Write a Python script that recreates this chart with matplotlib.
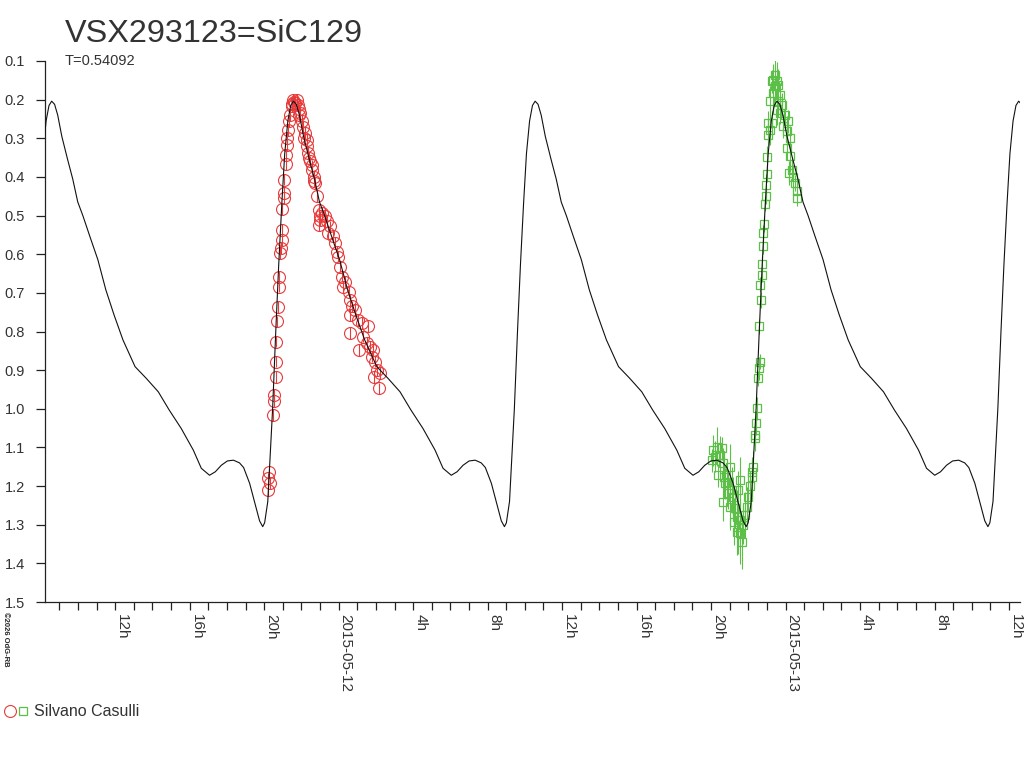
import datetime
import matplotlib
matplotlib.use('Agg')
import matplotlib.pyplot as plt
import matplotlib.dates as mdates
from matplotlib.ticker import FuncFormatter, MultipleLocator
from matplotlib.legend_handler import HandlerTuple
import numpy as np

#------------------------------------------------------------------------------
# star / ephemeris
star_name = 'VSX293123=SiC129'
period = 0.54092                 # days
t_max_h = -2.43                  # hours from 2015-05-12 00:00, one maximum
base = datetime.datetime(2015, 5, 12)

# model light curve, one cycle (phase from maximum, magnitude)
model_phase = [0.000, 0.012, 0.025, 0.042, 0.066, 0.087, 0.108, 0.129, 0.158,
               0.191, 0.224, 0.258, 0.295, 0.345, 0.391, 0.441, 0.486, 0.536,
               0.586, 0.619, 0.653, 0.677, 0.702, 0.727, 0.752, 0.777, 0.794,
               0.819, 0.848, 0.860, 0.873, 0.881, 0.894, 0.904, 0.914, 0.927,
               0.939, 0.952, 0.964, 0.977, 0.989]
model_mag = [0.204, 0.212, 0.240, 0.295, 0.355, 0.405, 0.465, 0.500, 0.554,
             0.614, 0.692, 0.757, 0.822, 0.891, 0.921, 0.956, 1.003, 1.051,
             1.107, 1.154, 1.172, 1.163, 1.146, 1.135, 1.133, 1.140, 1.152,
             1.193, 1.262, 1.290, 1.305, 1.295, 1.240, 1.120, 1.000, 0.800,
             0.630, 0.470, 0.340, 0.255, 0.215]

# Silvano Casulli, first night (red circles), hours from 2015-05-12 00:00
red_h = [-3.73, -3.77, -3.68, -3.80, -3.50, -3.46, -3.45, -3.37, -3.36, -3.34,
         -3.30, -3.28, -3.23, -3.19, -3.14, -3.10, -3.05, -3.04, -3.02, -2.96,
         -2.94, -2.91, -2.83, -2.82, -2.78, -2.75, -2.70, -2.69, -2.60, -2.51,
         -2.48, -2.43, -2.39, -2.34, -2.24, -2.20, -2.15, -2.12, -2.07, -1.98,
         -1.91, -1.85, -1.80, -1.71, -1.69, -1.62, -1.58, -1.53, -1.44, -1.42,
         -1.35, -1.31, -1.26, -1.17, -1.08, -0.99, -0.90, -0.98, -1.07, -0.72,
         -0.63, -0.46, -0.55, -0.28, -0.19, -0.10, -0.01, 0.08, 0.17, 0.35,
         0.26, 0.53, 0.62, 0.71, 0.63, 0.89, 1.06, 1.25, 1.60, 0.61,
         1.33, 1.51, 1.69, 1.07, 1.87, 1.78, 1.96, 2.05, 2.23, 1.88, 2.14]
red_mag = [1.163, 1.180, 1.193, 1.210, 1.016, 0.981, 0.964, 0.918, 0.878, 0.826,
           0.774, 0.737, 0.684, 0.659, 0.597, 0.584, 0.563, 0.537, 0.483, 0.455,
           0.442, 0.407, 0.366, 0.342, 0.317, 0.299, 0.278, 0.256, 0.239, 0.217,
           0.210, 0.200, 0.205, 0.209, 0.200, 0.215, 0.225, 0.240, 0.234, 0.256,
           0.270, 0.300, 0.286, 0.304, 0.320, 0.338, 0.350, 0.360, 0.381, 0.370,
           0.399, 0.410, 0.416, 0.450, 0.485, 0.502, 0.494, 0.511, 0.524, 0.502,
           0.515, 0.528, 0.545, 0.554, 0.571, 0.593, 0.606, 0.632, 0.658, 0.671,
           0.684, 0.697, 0.718, 0.735, 0.757, 0.744, 0.770, 0.778, 0.787, 0.804,
           0.813, 0.830, 0.839, 0.848, 0.848, 0.865, 0.878, 0.900, 0.908, 0.917, 0.947]
red_err = 0.015

# Silvano Casulli, second night (green squares)
green_h = [20.12, 20.31, 20.57, 20.21, 20.48, 20.04, 20.66, 20.39, 20.67, 20.84,
           21.02, 20.75, 20.65, 20.93, 21.11, 21.20, 21.03, 21.29, 21.38, 21.21,
           21.56, 21.47, 21.57, 21.65, 21.39, 21.73, 21.82, 21.92, 22.00, 21.55,
           21.46, 22.09, 22.19, 22.27, 22.18, 22.36, 22.37, 22.40, 22.45, 22.54,
           22.55, 22.63, 22.58, 22.67, 22.64, 22.72, 22.73, 22.78, 22.81, 22.85,
           22.90, 22.95, 22.94, 22.99, 23.02, 23.08, 23.17, 23.26, 23.07, 23.16,
           23.34, 23.43, 23.25, 23.44, 23.35, 23.53, 23.61, 23.70, 23.62, 23.79,
           23.52, 23.71, 23.97, 24.15, 23.88, 24.06, 24.24, 24.07, 24.25, 24.16,
           24.33, 24.42, 24.51, 24.60, 24.61]
green_mag = [1.107, 1.098, 1.102, 1.124, 1.120, 1.133, 1.141, 1.172, 1.176, 1.189,
             1.150, 1.193, 1.240, 1.219, 1.210, 1.227, 1.253, 1.258, 1.279, 1.292,
             1.288, 1.305, 1.322, 1.344, 1.318, 1.301, 1.275, 1.253, 1.227, 1.184,
             1.210, 1.201, 1.176, 1.150, 1.163, 1.076, 1.068, 1.037, 0.999, 0.921,
             0.895, 0.878, 0.787, 0.718, 0.679, 0.653, 0.625, 0.580, 0.544, 0.522,
             0.469, 0.450, 0.422, 0.393, 0.349, 0.291, 0.278, 0.260, 0.260, 0.204,
             0.183, 0.165, 0.153, 0.135, 0.148, 0.153, 0.161, 0.187, 0.204, 0.213,
             0.226, 0.234, 0.239, 0.256, 0.269, 0.282, 0.299, 0.325, 0.347, 0.390,
             0.381, 0.399, 0.416, 0.437, 0.455]
green_err = [0.04, 0.05, 0.03, 0.04, 0.05, 0.03, 0.04, 0.03, 0.05, 0.04,
             0.06, 0.04, 0.05, 0.04, 0.06, 0.05, 0.06, 0.05, 0.07, 0.06,
             0.05, 0.07, 0.08, 0.07, 0.06, 0.05, 0.06, 0.05, 0.04, 0.06,
             0.05, 0.04, 0.05, 0.04, 0.03, 0.03, 0.04, 0.03, 0.03, 0.02,
             0.03, 0.02, 0.02, 0.02, 0.02, 0.02, 0.02, 0.02, 0.02, 0.02,
             0.02, 0.02, 0.03, 0.02, 0.03, 0.03, 0.04, 0.03, 0.03, 0.04,
             0.04, 0.05, 0.03, 0.04, 0.04, 0.05, 0.04, 0.03, 0.04, 0.03,
             0.04, 0.03, 0.04, 0.03, 0.03, 0.04, 0.03, 0.03, 0.04, 0.03,
             0.03, 0.03, 0.02, 0.03, 0.02]

observer = 'Silvano Casulli'
c_red = '#e83a3a'
c_green = '#5cbf48'
c_text = '#333333'

#------------------------------------------------------------------------------
plt.rcParams['font.family'] = ['Liberation Sans', 'DejaVu Sans']

base_num = mdates.date2num(base)
def hours_to_num(h):
    return base_num + np.asarray(h) / 24.0

# repeat the model cycle over the plotted interval
model_t = []
model_m = []
for k in range(-2, 4):
    model_t += [t_max_h + (p + k) * period * 24.0 for p in model_phase]
    model_m += model_mag

fig = plt.figure(figsize=(10.24, 7.68), dpi=100)
ax = fig.add_axes([45/1024, 166/768, 975/1024, 541/768])

ax.errorbar(hours_to_num(red_h), red_mag, yerr=red_err, fmt='o', ms=8.6,
            mfc='none', mec=c_red, mew=0.8, ecolor=c_red, elinewidth=0.8,
            capsize=0, zorder=2)
ax.errorbar(hours_to_num(green_h), green_mag, yerr=green_err, fmt='s', ms=6,
            mfc='none', mec=c_green, mew=0.9, ecolor=c_green, elinewidth=0.8,
            capsize=0, zorder=2)
ax.plot(hours_to_num(model_t), model_m, color='#111111', lw=0.8, zorder=3)

# axes
ax.set_ylim(1.5, 0.1)
ax.yaxis.set_major_locator(MultipleLocator(0.1))
ax.yaxis.set_major_formatter(FuncFormatter(lambda v, p: '%.1f' % v))
ax.set_xlim(hours_to_num(-15.77), hours_to_num(36.59))

def hour_fmt(x, pos):
    d = mdates.num2date(x + 1e-6)
    if d.hour == 0:
        return d.strftime('%Y-%m-%d')
    return '%dh' % d.hour

ax.xaxis.set_major_locator(mdates.HourLocator(byhour=range(0, 24, 4)))
ax.xaxis.set_minor_locator(mdates.HourLocator())
ax.xaxis.set_major_formatter(FuncFormatter(hour_fmt))

for s in ['top', 'right']:
    ax.spines[s].set_visible(False)
for s in ['left', 'bottom']:
    ax.spines[s].set_linewidth(0.9)
    ax.spines[s].set_color('#222222')

ax.tick_params(axis='y', direction='out', length=6.5, width=0.9, pad=8,
               labelsize=10.5, colors='#222222', labelcolor=c_text)
ax.tick_params(axis='x', which='both', direction='out', length=6, width=0.9,
               pad=3, labelsize=11, colors='#222222', labelcolor=c_text)
for lab in ax.get_xticklabels():
    lab.set_rotation(270)
    lab.set_ha('left')
    lab.set_va('top')

# titles
fig.text(65/1024, 1 - 42/768, star_name, fontsize=23.3, color=c_text, va='baseline')
fig.text(65/1024, 1 - 65/768, 'T=%.5f' % period, fontsize=10.5, color=c_text,
         va='baseline')
fig.text(2/1024, 1 - 612/768, '\u00a92026 OdG-RB', fontsize=5.5, rotation=270,
         color='#222222', va='top', ha='left', fontweight='bold')

# legend: one observer, both symbols
h_red, = ax.plot([], [], 'o', ms=8.6, mfc='none', mec=c_red, mew=0.8)
h_green, = ax.plot([], [], 's', ms=6, mfc='none', mec=c_green, mew=0.9)
fig.legend(handles=[(h_red, h_green)], labels=[observer],
           handler_map={tuple: HandlerTuple(ndivide=None, pad=0.1)},
           loc='center left', bbox_to_anchor=(-0.004, 1 - 712/768), frameon=False,
           fontsize=11.5, handlelength=1.6, handletextpad=0.3, borderpad=0,
           labelcolor=c_text)

fig.savefig('out.png', dpi=100)
